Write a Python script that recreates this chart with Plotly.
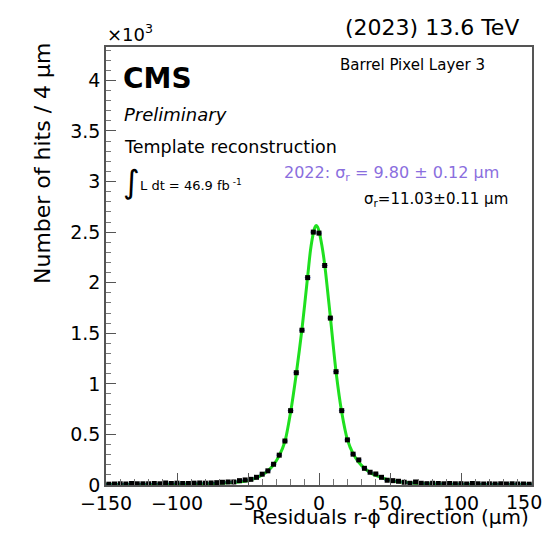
import plotly.graph_objects as go

# ---- data (counts in units of 10^3) ----
bin_centers = list(range(-148, 149, 4))  # 4 um bins from -150 to 150
counts = [
    0.008, 0.010, 0.012, 0.010, 0.015, 0.012, 0.012, 0.012, 0.015, 0.012,
    0.020, 0.015, 0.018, 0.015, 0.015, 0.018, 0.020, 0.018, 0.020,
    0.023, 0.027, 0.030, 0.030, 0.043, 0.050, 0.056, 0.076, 0.107, 0.140,
    0.205, 0.295, 0.435, 0.735, 1.11, 1.53, 2.05, 2.50,
    2.49, 2.17, 1.65, 1.12, 0.735, 0.446, 0.305, 0.248, 0.165, 0.126,
    0.109, 0.076, 0.047, 0.043, 0.037, 0.027, 0.017, 0.030, 0.017, 0.013, 0.017,
    0.015, 0.012, 0.015, 0.012, 0.013, 0.010, 0.015, 0.012, 0.010, 0.012,
    0.010, 0.012, 0.010, 0.012, 0.010, 0.010, 0.008,
]
bin_half_width = [2] * len(bin_centers)

fit_x = [-150, -130, -110, -90, -80, -70, -60, -55, -50, -45,
         -40, -36, -32, -28, -24, -20, -16, -12, -8, -6,
         -4, -3, -2, -1, 0, 2, 4, 8, 12, 16,
         20, 24, 28, 32, 36, 40, 45, 50, 55, 60,
         70, 80, 90, 110, 130, 150]
fit_y = [0.004, 0.005, 0.007, 0.010, 0.013, 0.018, 0.027, 0.033, 0.045, 0.065,
         0.10, 0.14, 0.20, 0.29, 0.43, 0.72, 1.10, 1.54, 2.06, 2.32,
         2.49, 2.545, 2.565, 2.55, 2.51, 2.37, 2.18, 1.66, 1.12, 0.72,
         0.45, 0.31, 0.225, 0.165, 0.125, 0.095, 0.068, 0.048, 0.035, 0.026,
         0.016, 0.011, 0.008, 0.006, 0.004, 0.003]

x_ticks = [-150, -100, -50, 0, 50, 100, 150]
x_ticklabels = ["\u2212150", "\u2212100", "\u221250", "0", "50", "100", ""]
x_last_label = "150"   # drawn separately so it stays inside the page
y_ticks = [0, 0.5, 1, 1.5, 2, 2.5, 3, 3.5, 4]
y_ticklabels = ["0", "0.5", "1", "1.5", "2", "2.5", "3", "3.5", "4"]

FONT = "DejaVu Sans"
W, H = 553, 537          # window size
OFF = 8                  # default page body margin
L, R, T, B = 106, 532, 47, 485   # plot-area box in window pixels


def px(x):
    return (x - L) / (R - L)


def py(y):
    return (B - y) / (B - T)


fig = go.Figure()
fig.add_trace(go.Scatter(
    x=fit_x, y=fit_y, mode="lines",
    line=dict(color="#1fe01f", width=3, shape="spline", smoothing=0.8),
    hoverinfo="skip", showlegend=False,
))
fig.add_trace(go.Scatter(
    x=bin_centers, y=counts, mode="markers",
    marker=dict(symbol="square", size=5, color="black"),
    error_x=dict(type="data", array=bin_half_width, color="rgb(60,90,220)",
                 thickness=1, width=0),
    showlegend=False,
))

axis_common = dict(
    showgrid=False, zeroline=False, showline=True, linecolor="#555",
    linewidth=1.5, mirror=True, ticks="inside", tickcolor="#555",
    tickfont=dict(family=FONT, size=19, color="black"),
)
fig.update_xaxes(
    range=[-150, 150], tickvals=x_ticks, ticktext=x_ticklabels,
    ticklen=12, tickwidth=1, ticklabelstandoff=0,
    minor=dict(ticks="inside", dtick=10, ticklen=6, tickcolor="#777"),
    **axis_common,
)
fig.update_yaxes(
    range=[0, 4.33], tickvals=y_ticks, ticktext=y_ticklabels,
    ticklen=10, tickwidth=1,
    minor=dict(ticks="inside", dtick=0.1, ticklen=5, tickcolor="#777"),
    **axis_common,
)


def ann(text, x, y, size, xanchor="left", yanchor="middle", color="black",
        angle=0):
    return dict(text=text, x=px(x), y=py(y), xref="paper", yref="paper",
                xanchor=xanchor, yanchor=yanchor, showarrow=False,
                textangle=angle,
                font=dict(family=FONT, size=size, color=color))


annotations = [
    ann("\u00d710<sup>3</sup>", 105, 33, 18),
    ann("(2023) 13.6 TeV", 521, 28, 22, xanchor="right"),
    ann("<b>CMS</b>", 121, 78, 28),
    ann("<i>Preliminary</i>", 122, 114, 18),
    ann("Template reconstruction", 122, 147, 17.5),
    ann("\u222b", 121, 182, 32),
    ann("L dt = 46.9 fb<sup> -1</sup>", 138, 185, 13),
    ann("Barrel Pixel Layer 3", 412, 65, 15, xanchor="center"),
    ann("2022: \u03c3<sub>r</sub> = 9.80 \u00b1 0.12 \u00b5m", 501, 173, 16,
        xanchor="right", color="rgb(138,110,222)"),
    ann("\u03c3<sub>r</sub>=11.03\u00b10.11 \u00b5m", 510, 199, 15,
        xanchor="right"),
    ann(x_last_label, 544, 502, 19, xanchor="right"),
    ann("Residuals r-\u03d5 direction (\u00b5m)", 531, 517, 20,
        xanchor="right"),
    ann("Number of hits / 4 \u00b5m", 42, 40, 22, xanchor="center",
        yanchor="top", angle=-90),
]

fig.update_layout(
    width=W - 2 * OFF, height=H - 2 * OFF, autosize=False,
    margin=dict(l=L - OFF, r=W - R - OFF, t=T - OFF, b=H - B - OFF, pad=0),
    paper_bgcolor="white", plot_bgcolor="white",
    annotations=annotations,
    font=dict(family=FONT),
)

fig.write_html("out.html", config={"displayModeBar": False})
